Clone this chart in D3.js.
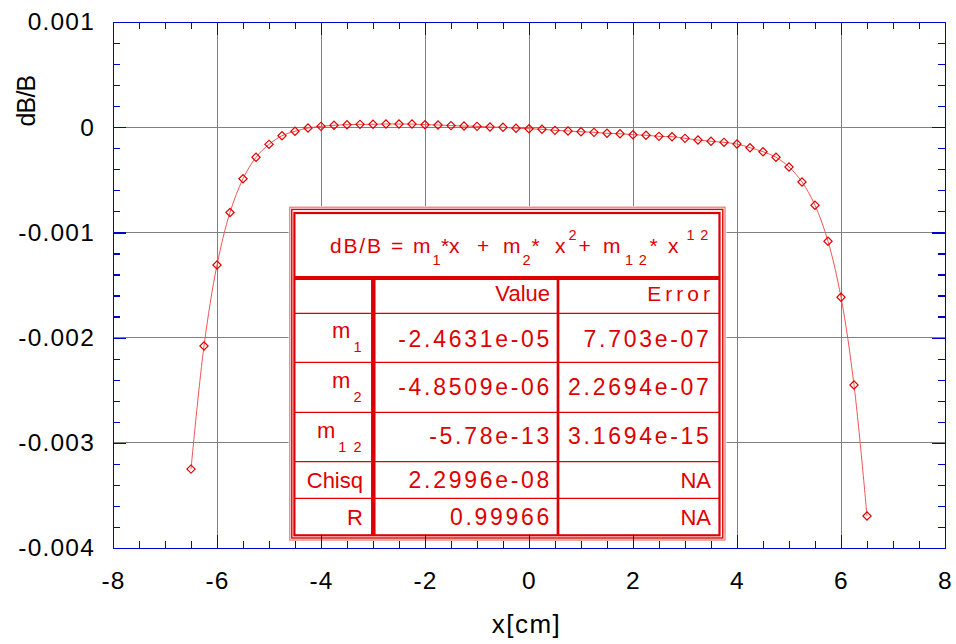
<!DOCTYPE html>
<html>
<head>
<meta charset="utf-8">
<script src="https://cdn.jsdelivr.net/npm/d3@7"></script>
<style>
  body { margin: 0; background: #fff; }
  svg text { font-family: "Liberation Sans", Arial, sans-serif; }
</style>
</head>
<body>
<div id="chart"></div>
<script>
// measured points (x in cm, dB/B)
var xValues = [-6.5, -6.25, -6, -5.75, -5.5, -5.25, -5, -4.75, -4.5, -4.25, -4, -3.75, -3.5, -3.25, -3, -2.75, -2.5, -2.25, -2, -1.75, -1.5, -1.25, -1, -0.75, -0.5, -0.25,
    0, 0.25, 0.5, 0.75, 1, 1.25, 1.5, 1.75, 2, 2.25, 2.5, 2.75, 3, 3.25, 3.5, 3.75, 4, 4.25, 4.5, 4.75, 5, 5.25, 5.5, 5.75, 6, 6.25, 6.5];
var dbValues = [-0.00325, -0.00208, -0.00131, -0.00081, -0.00049, -0.000286, -0.000163, -0.000081, -0.000039, -0.000008, 0.000008, 0.000018, 0.000024, 0.000027,
    0.000028, 0.00003, 0.00003, 0.00003, 0.000024, 0.000021, 0.000015, 0.000011, 0.000008, 0.000002, -0.000001, -0.00001,
    -0.000014, -0.00002, -0.00003, -0.000036, -0.000043, -0.000049, -0.000058, -0.000062, -0.000071, -0.000077, -0.000087, -0.00009, -0.000106,
    -0.000122, -0.000134, -0.000144, -0.00016, -0.000195, -0.000233, -0.000286, -0.000378, -0.000521, -0.000742, -0.001085, -0.001617, -0.00245, -0.003696];

var xTicks = [-8, -6, -4, -2, 0, 2, 4, 6, 8];
var xTickLabels = ["-8", "-6", "-4", "-2", "0", "2", "4", "6", "8"];
var yTicks = [0.001, 0, -0.001, -0.002, -0.003, -0.004];
var yTickLabels = ["0.001", "0", "-0.001", "-0.002", "-0.003", "-0.004"];

// fit table
var tableLabels = [["m", "1"], ["m", "2"], ["m", "1 2"], ["Chisq", ""], ["R", ""]];
var tableValues = ["-2.4631e-05", "-4.8509e-06", "-5.78e-13", "2.2996e-08", "0.99966"];
var tableErrors = ["7.703e-07", "2.2694e-07", "3.1694e-15", "NA", "NA"];

var blue = "#0000cc", red = "#dd0000";

var svg = d3.select("#chart").append("svg")
    .attr("width", 956)
    .attr("height", 644);

// Set the ranges
var x = d3.scaleLinear().domain([-8, 8]).range([113, 945]);
var y = d3.scaleLinear().domain([-0.004, 0.001]).range([548, 22]);

// grid
var grid = svg.append("g").attr("shape-rendering", "crispEdges");
grid.selectAll(".vg")
    .data(xTicks.slice(1, -1))
    .enter().append("line")
    .attr("x1", function(d) { return x(d); })
    .attr("x2", function(d) { return x(d); })
    .attr("y1", y(0.001)).attr("y2", y(-0.004))
    .attr("stroke", "#808080");
grid.selectAll(".hg")
    .data(yTicks.slice(1, -1))
    .enter().append("line")
    .attr("y1", function(d) { return y(d); })
    .attr("y2", function(d) { return y(d); })
    .attr("x1", x(-8)).attr("x2", x(8))
    .attr("stroke", "#808080");

var data = xValues.map(function(v, i) { return {x: v, y: dbValues[i]}; });

// the curve
var line_value = d3.line()
    .x(function(d) { return x(d.x); })
    .y(function(d) { return y(d.y); })
    .curve(d3.curveCatmullRom);

svg.append("path")
    .attr("d", line_value(data))
    .style("fill", "none")
    .style("stroke", "#f05555")
    .style("stroke-width", 1);

svg.selectAll(".pt")
    .data(data)
    .enter().append("path")
    .attr("d", d3.symbol().type(d3.symbolSquare).size(34))
    .attr("transform", function(d) { return "translate(" + x(d.x) + "," + y(d.y) + ") rotate(45)"; })
    .style("fill", "none")
    .style("stroke", "#e00000")
    .style("stroke-width", 1.2);

// ---- table ----
var tb = svg.append("g");
tb.append("rect").attr("x", 288.5).attr("y", 206).attr("width", 438).attr("height", 335).attr("fill", "#fff");
tb.append("rect").attr("x", 289.8).attr("y", 207.2).attr("width", 435.2).attr("height", 332.8)
    .attr("fill", "none").attr("stroke", "#f07070").attr("stroke-width", 1.2);
tb.append("rect").attr("x", 291.8).attr("y", 209.4).attr("width", 431).attr("height", 328.6)
    .attr("fill", "none").attr("stroke", red).attr("stroke-width", 1.4);
tb.append("rect").attr("x", 294.4).attr("y", 213).attr("width", 425.1).attr("height", 322.3)
    .attr("fill", "none").attr("stroke", red).attr("stroke-width", 2.2);

// heavy rule under the equation
tb.append("line").attr("x1", 294).attr("x2", 720).attr("y1", 278).attr("y2", 278)
    .attr("stroke", red).attr("stroke-width", 4);
var rowLines = [313.3, 362.3, 412.3, 461.7, 498.3];
tb.selectAll(".rl").data(rowLines).enter().append("line")
    .attr("x1", 294).attr("x2", 720)
    .attr("y1", function(d) { return d; }).attr("y2", function(d) { return d; })
    .attr("stroke", red).attr("stroke-width", 1.2);
tb.append("line").attr("x1", 373.3).attr("x2", 373.3).attr("y1", 278).attr("y2", 535)
    .attr("stroke", red).attr("stroke-width", 4.5);
tb.append("line").attr("x1", 558).attr("x2", 558).attr("y1", 278).attr("y2", 535)
    .attr("stroke", red).attr("stroke-width", 2.7);

// equation pieces: [text, x, kind]
var eq = [["dB/B", 330, "n"], ["=", 391, "n"], ["m", 413, "n"], ["1", 432.5, "sub"], ["*", 441, "n"], ["x", 449, "n"],
    ["+", 477, "n"], ["m", 503, "n"], ["2", 522.5, "sub"], ["*", 531.5, "n"], ["x", 555, "n"], ["2", 568.5, "sup"],
    ["+", 578.5, "n"], ["m", 603, "n"], ["1 2", 625, "sub"], ["*", 649.5, "n"], ["x", 668, "n"], ["1 2", 686.5, "sup"]];
tb.selectAll(".eq").data(eq).enter().append("text")
    .attr("x", function(d) { return d[1]; })
    .attr("y", function(d) { return d[2] == "sub" ? 265 : d[2] == "sup" ? 239.5 : 252.7; })
    .attr("fill", red)
    .style("font-size", function(d) { return d[2] == "n" ? "21px" : "14.5px"; })
    .style("letter-spacing", function(d) { return d[0] == "dB/B" ? "1.8px" : "0.8px"; })
    .style("white-space", "pre")
    .text(function(d) { return d[0]; });

// header row
tb.append("text").attr("x", 550).attr("y", 300.7).attr("text-anchor", "end")
    .attr("fill", red).style("font-size", "22px").text("Value");
tb.append("text").attr("x", 714).attr("y", 300.7).attr("text-anchor", "end")
    .attr("fill", red).style("font-size", "21px").style("letter-spacing", "4px").text("Error");

var valueBase = [346.7, 395, 444, 488.3, 525];
var labelBase = [337.5, 388.3, 438.3, 488.3, 525];

tableLabels.forEach(function(l, i) {
    var t = tb.append("text").attr("x", 363).attr("y", labelBase[i]).attr("text-anchor", "end")
        .attr("fill", red).style("font-size", l[1] ? "22px" : "22px");
    t.append("tspan").text(l[0]);
    if (l[1]) {
        t.append("tspan").attr("dx", 3).attr("dy", 14)
            .style("font-size", "14.5px").style("letter-spacing", "1.5px").style("white-space", "pre")
            .text(l[1]);
    }
    tb.append("text").attr("x", 552).attr("y", valueBase[i]).attr("text-anchor", "end")
        .attr("fill", red).style("font-size", "23px").style("letter-spacing", "2.7px")
        .text(tableValues[i]);
    var isNA = tableErrors[i] == "NA";
    tb.append("text").attr("x", isNA ? 711 : 711.5).attr("y", valueBase[i]).attr("text-anchor", "end")
        .attr("fill", red).style("font-size", isNA ? "22px" : "23px").style("letter-spacing", isNA ? "0px" : "2.7px")
        .text(tableErrors[i]);
});

// ---- axes ----
var minorX = d3.range(-8, 8.01, 0.5).filter(function(d) { return xTicks.indexOf(d) < 0; });
var minorY = d3.range(-0.004, 0.00101, 0.0002).filter(function(d) {
    return yTicks.every(function(t) { return Math.abs(t - d) > 1e-9; });
});

function styleAxis(g) {
    g.attr("font-family", null).attr("font-size", null).attr("shape-rendering", "crispEdges");
    g.select(".domain").attr("stroke", blue).attr("stroke-width", 1.2);
    g.selectAll(".tick line").attr("stroke", blue).attr("stroke-width", 1.2);
    g.selectAll(".tick text").attr("fill", "#000").style("font-size", "24.5px").style("letter-spacing", "1.2px");
}

svg.append("g").attr("transform", "translate(0,548)")
    .call(d3.axisBottom(x).tickValues(xTicks).tickSize(-13).tickSizeOuter(0).tickPadding(24)
        .tickFormat(function(d, i) { return xTickLabels[i]; }))
    .call(styleAxis);
svg.append("g").attr("transform", "translate(113,0)")
    .call(d3.axisLeft(y).tickValues(yTicks).tickSize(-13).tickSizeOuter(0).tickPadding(18)
        .tickFormat(function(d, i) { return yTickLabels[i]; }))
    .call(styleAxis);
svg.append("g").attr("transform", "translate(0,22)")
    .call(d3.axisTop(x).tickValues(xTicks).tickSize(-13).tickSizeOuter(0).tickFormat(""))
    .call(styleAxis);
svg.append("g").attr("transform", "translate(945,0)")
    .call(d3.axisRight(y).tickValues(yTicks).tickSize(-13).tickSizeOuter(0).tickFormat(""))
    .call(styleAxis);

// minor ticks
svg.append("g").attr("transform", "translate(0,548)")
    .call(d3.axisBottom(x).tickValues(minorX).tickSize(-7).tickSizeOuter(0).tickFormat(""))
    .call(styleAxis);
svg.append("g").attr("transform", "translate(0,22)")
    .call(d3.axisTop(x).tickValues(minorX).tickSize(-7).tickSizeOuter(0).tickFormat(""))
    .call(styleAxis);
svg.append("g").attr("transform", "translate(113,0)")
    .call(d3.axisLeft(y).tickValues(minorY).tickSize(-7).tickSizeOuter(0).tickFormat(""))
    .call(styleAxis);
svg.append("g").attr("transform", "translate(945,0)")
    .call(d3.axisRight(y).tickValues(minorY).tickSize(-7).tickSizeOuter(0).tickFormat(""))
    .call(styleAxis);

// axis titles
svg.append("text")
    .attr("transform", "translate(526.5,632.5)")
    .attr("text-anchor", "middle")
    .style("font-size", "26px")
    .style("letter-spacing", "1.5px")
    .text("x[cm]");

svg.append("text")
    .attr("transform", "translate(35,101) rotate(-90)")
    .attr("text-anchor", "middle")
    .style("font-size", "25px")
    .style("letter-spacing", "-0.8px")
    .text("dB/B");
</script>
</body>
</html>
